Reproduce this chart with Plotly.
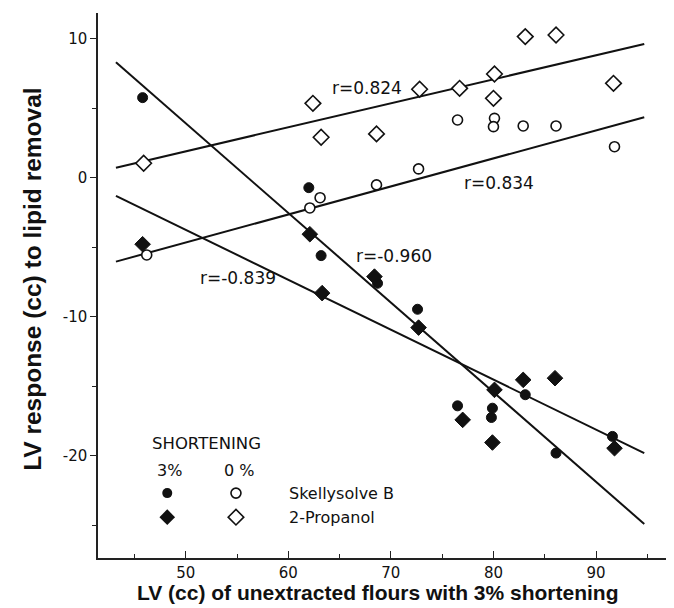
import plotly.graph_objects as go

# ---------------- data ----------------
skelly_3_x = [45.8, 62.0, 63.2, 68.7, 72.6, 76.5, 79.9, 79.8, 83.1, 86.1, 91.6]
skelly_3_y = [5.78, -0.70, -5.59, -7.58, -9.45, -16.4, -16.57, -17.24, -15.6, -19.8, -18.6]

skelly_0_x = [46.2, 62.1, 63.1, 68.6, 72.7, 76.5, 80.1, 80.0, 82.9, 86.1, 91.8]
skelly_0_y = [-5.54, -2.16, -1.42, -0.50, 0.65, 4.17, 4.29, 3.69, 3.74, 3.74, 2.25]

prop_3_x = [45.8, 62.1, 63.3, 68.4, 72.7, 77.0, 79.9, 80.1, 82.9, 86.0, 91.8]
prop_3_y = [-4.77, -4.05, -8.29, -7.10, -10.77, -17.41, -19.04, -15.25, -14.53, -14.41, -19.45]

prop_0_x = [45.9, 62.4, 63.2, 68.6, 72.8, 76.7, 80.1, 80.0, 83.1, 86.1, 91.7]
prop_0_y = [1.06, 5.37, 2.93, 3.17, 6.38, 6.45, 7.48, 5.73, 10.17, 10.29, 6.81]

# regression lines: end points
fit_x = [43.2, 94.7]
fit_prop_0 = [0.74, 9.64]      # r = 0.824
fit_skelly_0 = [-6.02, 4.37]   # r = 0.834
fit_skelly_3 = [8.32, -24.9]   # r = -0.960
fit_prop_3 = [-1.29, -19.8]    # r = -0.839

r_labels = ["r=0.824", "r=0.834", "r=-0.960", "r=-0.839"]
r_label_x = [67.7, 80.5, 70.3, 55.1]
r_label_y = [6.47, -0.34, -5.59, -7.22]

x_tick_vals = [50, 60, 70, 80, 90]
y_tick_vals = [10, 0, -10, -20]
y_tick_text = ["10", "0", "-10", "-20"]

series_names = ["Skellysolve B", "2-Propanol"]
x_title = "LV (cc) of unextracted flours with 3% shortening"
y_title = "LV response (cc) to lipid removal"

# ---------------- figure ----------------
FONT = "DejaVu Sans"
BOLD = "Liberation Sans"
INK = "#111111"

fig = go.Figure()

line_style = dict(color=INK, width=2)
for fy in [fit_prop_0, fit_skelly_0, fit_skelly_3, fit_prop_3]:
    fig.add_trace(go.Scatter(x=fit_x, y=fy, mode="lines", line=line_style,
                             showlegend=False, hoverinfo="skip"))

open_line = dict(color=INK, width=1.6)
CIRC, DIAM = 10, 12
fig.add_trace(go.Scatter(x=skelly_0_x, y=skelly_0_y, mode="markers",
                         marker=dict(symbol="circle", size=CIRC, color="white", line=open_line),
                         showlegend=False))
fig.add_trace(go.Scatter(x=prop_0_x, y=prop_0_y, mode="markers",
                         marker=dict(symbol="diamond", size=DIAM, color="white", line=open_line),
                         showlegend=False))
fig.add_trace(go.Scatter(x=skelly_3_x, y=skelly_3_y, mode="markers",
                         marker=dict(symbol="circle", size=CIRC, color=INK,
                                     line=dict(color=INK, width=1)),
                         showlegend=False))
fig.add_trace(go.Scatter(x=prop_3_x, y=prop_3_y, mode="markers",
                         marker=dict(symbol="diamond", size=DIAM, color=INK,
                                     line=dict(color=INK, width=1)),
                         showlegend=False))

# legend keys (layout positions)
key_x_filled, key_x_open = 48.2, 54.9
key_y = [-22.68, -24.41]
fig.add_trace(go.Scatter(x=[key_x_filled], y=[key_y[0]], mode="markers",
                         marker=dict(symbol="circle", size=CIRC, color=INK),
                         showlegend=False, hoverinfo="skip"))
fig.add_trace(go.Scatter(x=[key_x_open], y=[key_y[0]], mode="markers",
                         marker=dict(symbol="circle", size=CIRC, color="white", line=open_line),
                         showlegend=False, hoverinfo="skip"))
fig.add_trace(go.Scatter(x=[key_x_filled], y=[key_y[1]], mode="markers",
                         marker=dict(symbol="diamond", size=DIAM, color=INK),
                         showlegend=False, hoverinfo="skip"))
fig.add_trace(go.Scatter(x=[key_x_open], y=[key_y[1]], mode="markers",
                         marker=dict(symbol="diamond", size=DIAM, color="white", line=open_line),
                         showlegend=False, hoverinfo="skip"))

annotations = []
for t, ax_, ay_ in zip(r_labels, r_label_x, r_label_y):
    annotations.append(dict(x=ax_, y=ay_, text=t, showarrow=False,
                            font=dict(family=FONT, size=17, color=INK),
                            xanchor="center", yanchor="middle"))
annotations += [
    dict(x=46.5, y=-19.09, text="SHORTENING", showarrow=False, xanchor="left",
         yanchor="middle", font=dict(family=FONT, size=16.5, color=INK)),
    dict(x=47.0, y=-21.06, text="3%", showarrow=False, xanchor="left",
         yanchor="middle", font=dict(family=FONT, size=16, color=INK)),
    dict(x=53.5, y=-21.06, text="0 %", showarrow=False, xanchor="left",
         yanchor="middle", font=dict(family=FONT, size=16, color=INK)),
    dict(x=59.9, y=key_y[0], text=series_names[0], showarrow=False, xanchor="left",
         yanchor="middle", font=dict(family=FONT, size=16, color=INK)),
    dict(x=59.9, y=key_y[1], text=series_names[1], showarrow=False, xanchor="left",
         yanchor="middle", font=dict(family=FONT, size=16, color=INK)),
    # axis titles
    dict(xref="paper", yref="paper", x=0.486, y=-0.064, text="<b>" + x_title + "</b>",
         showarrow=False, xanchor="center", yanchor="middle",
         font=dict(family=BOLD, size=21, color=INK)),
    dict(xref="paper", yref="paper", x=-0.113, y=0.512, text="<b>" + y_title + "</b>",
         showarrow=False, xanchor="center", yanchor="middle", textangle=-90,
         font=dict(family=BOLD, size=24.5, color=INK)),
]

# the page body has an 8 px margin, so the figure is 8 px smaller each way
fig.update_layout(
    width=666, height=600,
    margin=dict(l=90, r=0, t=5, b=50),
    paper_bgcolor="white", plot_bgcolor="white",
    showlegend=False,
    annotations=annotations,
    xaxis=dict(range=[41.45, 97.6], tickvals=x_tick_vals,
               ticks="inside", ticklen=7, tickwidth=1.3, tickcolor="#222222",
               minor=dict(dtick=5, tick0=0, ticks="inside", ticklen=4, tickcolor="#222222"),
               showline=True, linecolor="#222222", linewidth=1.5,
               showgrid=False, zeroline=False,
               tickfont=dict(family=FONT, size=15, color=INK)),
    yaxis=dict(range=[-27.35, 11.87], tickvals=y_tick_vals, ticktext=y_tick_text,
               ticks="outside", ticklen=6, tickwidth=1.3, tickcolor="#222222",
               minor=dict(dtick=5, tick0=0, ticks="outside", ticklen=4, tickcolor="#222222"),
               showline=True, linecolor="#222222", linewidth=1.5,
               showgrid=False, zeroline=False,
               tickfont=dict(family=FONT, size=15, color=INK)),
)

fig.write_html("out.html")
